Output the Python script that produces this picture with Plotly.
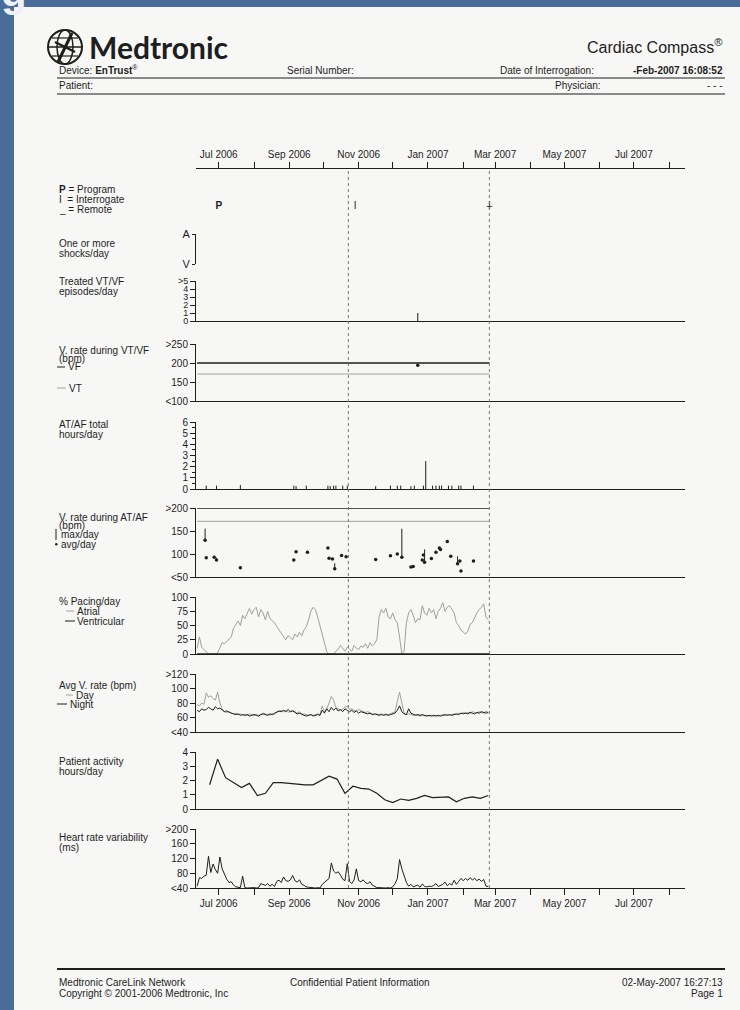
import pandas as pd
import plotly.graph_objects as go

# ---------------- data ----------------
X_RANGE = ["2006-06-11", "2007-08-15"]
TICK_DATES = ["2006-07-01", "2006-08-01", "2006-09-01", "2006-10-01", "2006-11-01", "2006-12-01",
              "2007-01-01", "2007-02-01", "2007-03-01", "2007-04-01", "2007-05-01", "2007-06-01",
              "2007-07-01", "2007-08-01"]
TICK_LABELS = ["Jul 2006", "", "Sep 2006", "", "Nov 2006", "", "Jan 2007", "", "Mar 2007", "",
               "May 2007", "", "Jul 2007", ""]

SESSION_LINES = ["2006-10-23", "2007-02-24"]
EVENT_DATES = ["2006-07-01", "2006-10-29", "2007-02-24"]
EVENT_CODES = ["<b>P</b>", "I", "I"]
REMOTE_DATES = ["2007-02-24"]

DATA_START, DATA_END = "2006-06-12", "2007-02-24"
VF_ZONE = 200
VT_ZONE = 171

VTVF_EPISODE_DATES = ["2006-12-23"]
VTVF_EPISODES = [1]
VTVF_RATE = [194]

ATAF_DATES = ["2006-06-20", "2006-06-29", "2006-07-20", "2006-09-05", "2006-09-07", "2006-09-16",
              "2006-10-05", "2006-10-07", "2006-10-10", "2006-10-12", "2006-10-18", "2006-10-22",
              "2006-11-16", "2006-11-29", "2006-12-05", "2006-12-08", "2006-12-17", "2006-12-20",
              "2006-12-28", "2006-12-30", "2007-01-05", "2007-01-08", "2007-01-11", "2007-01-13",
              "2007-01-19", "2007-01-22", "2007-01-28", "2007-01-30", "2007-02-10"]
ATAF_HOURS = [0.3, 0.3, 0.35, 0.3, 0.25, 0.3, 0.3, 0.25, 0.3, 0.3, 0.3, 0.3, 0.25, 0.3, 0.3,
              0.3, 0.25, 0.3, 0.3, 2.5, 0.3, 0.3, 0.3, 0.3, 0.3, 0.3, 0.3, 0.3, 0.3]

ATAF_RATE_DATES = ["2006-06-19", "2006-06-20", "2006-06-27", "2006-06-29", "2006-07-20",
                   "2006-09-05", "2006-09-07", "2006-09-17", "2006-10-05", "2006-10-06",
                   "2006-10-09", "2006-10-11", "2006-10-17", "2006-10-21", "2006-11-16",
                   "2006-11-29", "2006-12-05", "2006-12-09", "2006-12-17", "2006-12-19",
                   "2006-12-27", "2006-12-28", "2006-12-29", "2007-01-04", "2007-01-08",
                   "2007-01-11", "2007-01-12", "2007-01-18", "2007-01-21", "2007-01-27",
                   "2007-01-29", "2007-01-30", "2007-02-10"]
ATAF_RATE_AVG = [130, 92, 93, 87, 70, 87, 105, 104, 113, 91, 89, 68, 97, 94, 88, 96, 100, 93,
                 72, 73, 87, 98, 82, 90, 104, 113, 110, 127, 95, 79, 85, 63, 85]
ATAF_RATE_MAX = [155, None, None, 92, None, None, None, None, None, None, None, 80, None, None,
                 None, None, None, 155, None, None, None, None, 110, None, None, None, None,
                 None, None, 95, None, None, None]

# two-day samples from 2006-06-12
DAILY_DATES = pd.date_range("2006-06-12", periods=129, freq="2D")
ATRIAL_PACING = [10, 30, 12, 8, 3, 0, 0, 0, 0, 2,
                 12, 20, 18, 22, 25, 30, 45, 52, 58, 50,
                 68, 62, 72, 80, 70, 78, 82, 65, 78, 72,
                 60, 75, 62, 58, 55, 48, 42, 38, 30, 25,
                 32, 28, 25, 35, 30, 38, 32, 42, 48, 60,
                 75, 82, 78, 65, 50, 35, 18, 4, 0, 0,
                 0, 5, 8, 15, 10, 5, 12, 8, 5, 15,
                 10, 8, 14, 12, 18, 10, 20, 14, 18, 25,
                 65, 78, 72, 80, 65, 62, 72, 60, 55, 30,
                 0, 5, 55, 72, 78, 68, 55, 62, 60, 85,
                 72, 68, 80, 72, 78, 62, 75, 80, 90, 75,
                 82, 85, 78, 72, 55, 50, 42, 38, 35, 40,
                 52, 55, 65, 72, 78, 82, 88, 65, 60]
VENT_PACING_DATES = [DATA_START, DATA_END]
VENT_PACING = [0, 0]
DAY_RATE = [78, 76, 80, 78, 94, 88, 90, 86, 84, 95,
            80, 72, 68, 67, 68, 66, 65, 66, 64, 65,
            63, 64, 63, 65, 64, 63, 64, 63, 64, 66,
            65, 64, 63, 65, 64, 67, 68, 70, 68, 70,
            67, 69, 70, 68, 66, 68, 64, 65, 64, 63,
            64, 63, 64, 65, 64, 76, 68, 72, 80, 89,
            84, 74, 72, 70, 72, 74, 76, 71, 72, 70,
            69, 71, 70, 68, 67, 68, 66, 65, 64, 65,
            64, 65, 64, 65, 64, 65, 66, 68, 82, 95,
            80, 66, 64, 65, 64, 63, 64, 63, 62, 63,
            62, 63, 62, 63, 62, 63, 62, 63, 64, 63,
            64, 63, 64, 65, 64, 66, 65, 67, 66, 67,
            66, 68, 67, 66, 68, 67, 66, 69, 67]
NIGHT_RATE = [70, 68, 72, 70, 71, 74, 72, 70, 75, 72,
              73, 70, 68, 69, 67, 66, 65, 64, 65, 63,
              64, 63, 64, 62, 63, 64, 63, 62, 64, 65,
              64, 63, 65, 64, 66, 68, 69, 68, 70, 68,
              71, 68, 69, 67, 65, 66, 64, 63, 62, 63,
              64, 62, 63, 64, 63, 70, 66, 72, 68, 74,
              70, 73, 69, 71, 68, 72, 70, 68, 70, 67,
              69, 66, 68, 67, 66, 65, 66, 64, 65, 64,
              63, 64, 63, 64, 63, 64, 65, 66, 70, 76,
              68, 65, 64, 72, 66, 64, 63, 64, 63, 64,
              63, 62, 63, 62, 63, 62, 63, 62, 63, 64,
              63, 64, 63, 64, 65, 64, 66, 65, 66, 65,
              67, 66, 65, 67, 66, 68, 67, 66, 67]
HRV = [45, 68, 66, 72, 75, 126, 82, 105, 90, 80,
       124, 92, 78, 64, 55, 57, 48, 43, 42, 41,
       72, 41, 40, 41, 40, 41, 40, 41, 52, 50,
       47, 52, 45, 50, 44, 58, 61, 55, 70, 60,
       58, 62, 74, 60, 56, 62, 50, 47, 43, 42,
       41, 41, 40, 41, 40, 50, 55, 60, 66, 108,
       86, 80, 84, 75, 64, 60, 106, 58, 52, 62,
       92, 60, 57, 62, 55, 52, 57, 48, 45, 41,
       41, 40, 41, 40, 41, 40, 43, 52, 65, 117,
       92, 70, 55, 45, 50, 43, 46, 48, 42, 51,
       44, 43, 45, 44, 47, 52, 44, 46, 50, 56,
       46, 52, 48, 61, 50, 58, 66, 60, 66, 61,
       68, 62, 66, 60, 64, 58, 63, 45, 44]

ACTIVITY_DATES = pd.date_range("2006-06-23", periods=36, freq="7D")
ACTIVITY_HOURS = [1.7, 3.5, 2.2, 1.85, 1.5, 1.8, 0.95, 1.1, 1.85, 1.85,
                  1.8, 1.7, 1.7, 1.7, 2.0, 2.3, 2.1, 1.1, 1.6, 1.45,
                  1.4, 1.1, 0.65, 0.45, 0.7, 0.6, 0.75, 0.95, 0.8, 0.8,
                  0.85, 0.5, 0.75, 0.85, 0.75, 0.95]

# ---------------- page geometry helpers ----------------
W, H = 740, 1010
FONT = "Liberation Sans, Arial, sans-serif"
INK = "#1e1e1e"
LIGHT = "#a0a0a0"
SLIDE = "#4a6c99"
PAGE = "#f7f7f5"


def px(x):
    return x / W


def py(y):
    return 1 - y / H


def ydom(top, bottom):
    return [py(bottom), py(top)]


def spikes(x, heights, xa, ya):
    """Thin vertical strokes from zero up to each height."""
    return go.Scatter(x=x, y=[0] * len(heights), mode="markers",
                      marker=dict(size=1, color="rgba(0,0,0,0)"),
                      error_y=dict(type="data", symmetric=False, array=heights,
                                   arrayminus=[0] * len(heights), width=0, thickness=1,
                                   color=INK),
                      xaxis=xa, yaxis=ya, showlegend=False, cliponaxis=False)


fig = go.Figure()

# ---------------- traces ----------------
# session codes row
fig.add_trace(go.Scatter(x=EVENT_DATES, y=[0.39] * len(EVENT_DATES), text=EVENT_CODES,
                         mode="text", textfont=dict(size=10, color=INK, family=FONT),
                         xaxis="x", yaxis="y", showlegend=False))
fig.add_trace(go.Scatter(x=REMOTE_DATES, y=[0.45] * len(REMOTE_DATES), text=["_"] * len(REMOTE_DATES),
                         mode="text", textfont=dict(size=10, color=INK, family=FONT),
                         xaxis="x", yaxis="y", showlegend=False))
# shocks (none)
fig.add_trace(go.Scatter(x=[], y=[], xaxis="x2", yaxis="y2", showlegend=False))
# treated VT/VF episodes
fig.add_trace(spikes(VTVF_EPISODE_DATES, VTVF_EPISODES, "x3", "y3"))
# V rate during VT/VF
for yv, col, w in [(VT_ZONE, LIGHT, 1), (VF_ZONE, INK, 1.4)]:
    fig.add_trace(go.Scatter(x=[DATA_START, DATA_END], y=[yv, yv], mode="lines",
                             line=dict(color=col, width=w), xaxis="x4", yaxis="y4",
                             showlegend=False))
fig.add_trace(go.Scatter(x=VTVF_EPISODE_DATES, y=VTVF_RATE, mode="markers",
                         marker=dict(size=3.5, color=INK), xaxis="x4", yaxis="y4",
                         showlegend=False))
# AT/AF total hours
fig.add_trace(spikes(ATAF_DATES, ATAF_HOURS, "x5", "y5"))
# V rate during AT/AF
for yv, col, w in [(VT_ZONE, LIGHT, 1), (VF_ZONE, INK, 1.6)]:
    fig.add_trace(go.Scatter(x=[DATA_START, DATA_END], y=[yv, yv], mode="lines",
                             line=dict(color=col, width=w), xaxis="x6", yaxis="y6",
                             showlegend=False))
max_span = [(m - a) if m is not None else 0 for m, a in zip(ATAF_RATE_MAX, ATAF_RATE_AVG)]
fig.add_trace(go.Scatter(x=ATAF_RATE_DATES, y=ATAF_RATE_AVG, mode="markers",
                         marker=dict(size=3.5, color=INK),
                         error_y=dict(type="data", symmetric=False, array=max_span,
                                      arrayminus=[0] * len(max_span), width=0, thickness=1,
                                      color=INK),
                         xaxis="x6", yaxis="y6", showlegend=False))
# % pacing
fig.add_trace(go.Scatter(x=DAILY_DATES, y=ATRIAL_PACING, mode="lines",
                         line=dict(color=LIGHT, width=1), xaxis="x7", yaxis="y7", showlegend=False))
fig.add_trace(go.Scatter(x=VENT_PACING_DATES, y=VENT_PACING, mode="lines",
                         line=dict(color=INK, width=1.4), xaxis="x7", yaxis="y7", showlegend=False))
# avg V rate day / night
fig.add_trace(go.Scatter(x=DAILY_DATES, y=DAY_RATE, mode="lines",
                         line=dict(color=LIGHT, width=1), xaxis="x8", yaxis="y8", showlegend=False))
fig.add_trace(go.Scatter(x=DAILY_DATES, y=NIGHT_RATE, mode="lines",
                         line=dict(color=INK, width=1), xaxis="x8", yaxis="y8", showlegend=False))
# patient activity
fig.add_trace(go.Scatter(x=ACTIVITY_DATES, y=ACTIVITY_HOURS, mode="lines",
                         line=dict(color=INK, width=1.2), xaxis="x9", yaxis="y9", showlegend=False))
# heart rate variability
fig.add_trace(go.Scatter(x=DAILY_DATES, y=HRV, mode="lines",
                         line=dict(color=INK, width=1), xaxis="x10", yaxis="y10", showlegend=False))

# ---------------- axes ----------------
tickfont = dict(size=10, color=INK, family=FONT)
xdomain = [px(196), px(685)]
xbase = dict(type="date", range=X_RANGE, domain=xdomain, showgrid=False, zeroline=False,
             tickvals=TICK_DATES, ticktext=TICK_LABELS, tickfont=tickfont, fixedrange=True,
             linecolor=INK, linewidth=1, tickcolor=INK, automargin=False)
ybase = dict(showgrid=False, zeroline=False, showline=True, linecolor=INK, linewidth=1,
             ticks="outside", ticklen=5, tickwidth=1, tickcolor=INK, tickfont=tickfont,
             fixedrange=True, automargin=False)

layout_axes = {}
layout_axes["xaxis"] = dict(xbase, anchor="y", side="top", showline=True, ticks="outside",
                            ticklen=6, showticklabels=True)
layout_axes["yaxis"] = dict(domain=ydom(169, 230), range=[0, 1], visible=False, fixedrange=True)

panels = [
    # n, top px, bottom px, range, tickvals, ticktext, baseline
    (2, 234, 264, [0, 1], [0, 1], ["V", "A"], False),
    (3, 281, 321, [0, 5], [0, 1, 2, 3, 4, 5], ["0", "1", "2", "3", "4", ">5"], True),
    (4, 344, 401, [100, 250], [100, 150, 200, 250], ["<100", "150", "200", ">250"], True),
    (5, 422, 489, [0, 6], [0, 1, 2, 3, 4, 5, 6], ["0", "1", "2", "3", "4", "5", "6"], True),
    (6, 508, 577, [50, 200], [50, 100, 150, 200], ["<50", "100", "150", ">200"], True),
    (7, 597, 654, [0, 100], [0, 25, 50, 75, 100], ["0", "25", "50", "75", "100"], True),
    (8, 674, 732, [40, 120], [40, 60, 80, 100, 120], ["<40", "60", "80", "100", ">120"], True),
    (9, 752, 809, [0, 4], [0, 1, 2, 3, 4], ["0", "1", "2", "3", "4"], True),
    (10, 829, 888, [40, 200], [40, 80, 120, 160, 200], ["<40", "80", "120", "160", ">200"], True),
]
for n, top, bot, rng, tv, tt, base in panels:
    yk, xk = f"yaxis{n}", f"xaxis{n}"
    layout_axes[yk] = dict(ybase, domain=ydom(top, bot), range=rng, tickvals=tv, ticktext=tt,
                           anchor=f"x{n}")
    if n == 2:
        layout_axes[yk].update(ticklen=3, tickfont=dict(size=11, color=INK, family=FONT))
    if n == 3:
        layout_axes[yk].update(tickfont=dict(size=9, color=INK, family=FONT))
    if n == 5:
        layout_axes[yk]["minor"] = dict(dtick=0.5, ticks="outside", ticklen=3, tickcolor=INK)
    if n == 10:
        layout_axes[xk] = dict(xbase, anchor=f"y{n}", showline=True, ticks="outside", ticklen=6,
                               showticklabels=True, matches="x")
    else:
        layout_axes[xk] = dict(xbase, anchor=f"y{n}", showline=base, ticks="",
                               showticklabels=False, matches="x")

# ---------------- page furniture ----------------
shapes = [
    dict(type="rect", xref="paper", yref="paper", x0=px(14), x1=1.02, y0=-0.02, y1=py(7),
         fillcolor=PAGE, line=dict(width=0), layer="below"),
    # header and footer rules
    dict(type="line", xref="paper", yref="paper", x0=px(57), x1=px(725), y0=py(78), y1=py(78),
         line=dict(color=INK, width=1)),
    dict(type="line", xref="paper", yref="paper", x0=px(57), x1=px(725), y0=py(94), y1=py(94),
         line=dict(color=INK, width=1)),
    dict(type="line", xref="paper", yref="paper", x0=px(57), x1=px(725), y0=py(969), y1=py(969),
         line=dict(color=INK, width=2)),
    # logo globe
    dict(type="circle", xref="paper", yref="paper", x0=px(48), x1=px(82), y0=py(64), y1=py(30),
         line=dict(color=INK, width=2)),
    dict(type="circle", xref="paper", yref="paper", x0=px(57), x1=px(73), y0=py(64), y1=py(30),
         line=dict(color=INK, width=1.5)),
    dict(type="line", xref="paper", yref="paper", x0=px(49), x1=px(81), y0=py(47), y1=py(47),
         line=dict(color=INK, width=1.5)),
    dict(type="line", xref="paper", yref="paper", x0=px(52), x1=px(78), y0=py(38), y1=py(38),
         line=dict(color=INK, width=1.2)),
    dict(type="line", xref="paper", yref="paper", x0=px(52), x1=px(78), y0=py(56), y1=py(56),
         line=dict(color=INK, width=1.2)),
    dict(type="line", xref="paper", yref="paper", x0=px(58), x1=px(72), y0=py(62), y1=py(33),
         line=dict(color=INK, width=3)),
    dict(type="line", xref="paper", yref="paper", x0=px(55), x1=px(75), y0=py(42), y1=py(52),
         line=dict(color=INK, width=2.5)),
]
for d in SESSION_LINES:
    shapes.append(dict(type="line", xref="x", yref="paper", x0=d, x1=d, y0=py(888), y1=py(169),
                       line=dict(color="#777777", width=1, dash="dot")))

# legend glyphs beside the row labels
legend_lines = [(57, 65, 367, INK), (57, 66, 388, LIGHT), (66, 74, 611, LIGHT), (65, 75, 621, INK),
                (66, 73, 695, LIGHT), (57, 67, 704, INK)]
for x0, x1, yy, col in legend_lines:
    shapes.append(dict(type="line", xref="paper", yref="paper", x0=px(x0), x1=px(x1),
                       y0=py(yy), y1=py(yy), line=dict(color=col, width=1)))
shapes.append(dict(type="line", xref="paper", yref="paper", x0=px(56), x1=px(56), y0=py(540),
                   y1=py(529), line=dict(color=INK, width=1)))
shapes.append(dict(type="circle", xref="paper", yref="paper", x0=px(55), x1=px(57.5),
                   y0=py(545.5), y1=py(543), fillcolor=INK, line=dict(width=0)))

annotations = []


def label(text, x, y, size=10, anchor="left", color=INK, family=FONT, yanchor="middle", **kw):
    annotations.append(dict(text=text, x=px(x), y=py(y), xref="paper", yref="paper",
                            xanchor=anchor, yanchor=yanchor, showarrow=False,
                            font=dict(size=size, color=color, family=family, **kw)))


# tail of the slide heading peeking over the page corner
label("<b>g</b>", -1, 17, size=42, color="#eef2f8", yanchor="bottom")

# header
label("<b>Medtronic</b>", 87, 47, size=30, family="Lato, Liberation Sans, Arial", weight=900)
label("Cardiac Compass<sup>®</sup>", 725, 46, size=16, anchor="right")
label("Device: <b>EnTrust</b><sup>®</sup>", 57, 70)
label("Serial Number:", 285, 70)
label("Date of Interrogation:", 498, 70)
label("<b>-Feb-2007 16:08:52</b>", 725, 70, anchor="right")
label("Patient:", 57, 86)
label("Physician:", 553, 86)
label("- - -", 725, 86, anchor="right")

# row labels
rows = [
    ("<b>P</b> = Program", 57, 190), ("I  = Interrogate", 57, 200), ("_ = Remote", 57, 210),
    ("One or more", 57, 243), ("shocks/day", 57, 253),
    ("Treated VT/VF", 57, 281), ("episodes/day", 57, 291),
    ("V. rate during VT/VF", 57, 350), ("(bpm)", 57, 358), ("VF", 66, 366), ("VT", 67, 388),
    ("AT/AF total", 57, 425), ("hours/day", 57, 435),
    ("V. rate during AT/AF", 57, 517), ("(bpm)", 57, 525), ("max/day", 59, 534),
    ("avg/day", 59, 544),
    ("% Pacing/day", 57, 601), ("Atrial", 75, 611), ("Ventricular", 75, 621),
    ("Avg V. rate (bpm)", 57, 685), ("Day", 74, 695), ("Night", 68, 704),
    ("Patient activity", 57, 761), ("hours/day", 57, 771),
    ("Heart rate variability", 57, 837), ("(ms)", 57, 847),
]
for t, x, y in rows:
    label(t, x, y)

# footer
label("Medtronic CareLink Network", 57, 982)
label("Copyright © 2001-2006 Medtronic, Inc", 57, 993)
label("Confidential Patient Information", 288, 982)
label("02-May-2007 16:27:13", 725, 982, anchor="right")
label("Page 1", 725, 993, anchor="right")

fig.update_layout(
    width=W, height=H, autosize=False,
    margin=dict(l=0, r=0, t=0, b=0, pad=0, autoexpand=False),
    paper_bgcolor=SLIDE, plot_bgcolor="rgba(0,0,0,0)",
    font=dict(family=FONT, size=10, color=INK),
    showlegend=False, hovermode=False,
    shapes=shapes, annotations=annotations,
    **layout_axes,
)

fig.write_html("out.html")
